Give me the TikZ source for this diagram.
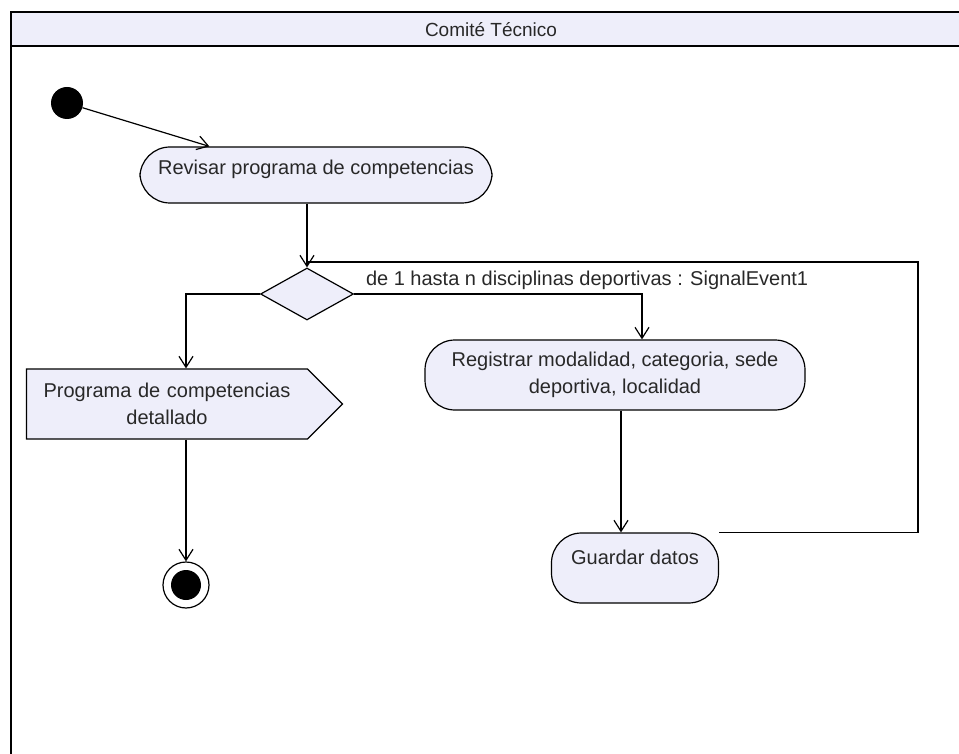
\documentclass[tikz,border=0pt]{standalone}
\usepackage{fontspec}
\setmainfont{Liberation Sans}
\usetikzlibrary{arrows.meta, positioning, shapes.geometric, shapes.symbols}
\definecolor{actfill}{RGB}{238,238,250}
\definecolor{ink}{RGB}{40,40,40}

\begin{document}
\begin{tikzpicture}[x=1pt, y=-1pt,
    txt/.style={font=\fontsize{20}{27}\selectfont, text=ink},
    action/.style={txt, draw, fill=actfill, line width=1.2pt, rounded corners=30pt, align=center},
    flow/.style={line width=1.2pt, -{Straight Barb[length=11pt, width=14pt, line width=1.2pt]}},
    link/.style={line width=1.2pt},
    frame/.style={line width=2.6pt}
]
    \useasboundingbox (0,0) rectangle (959,754);

    % carril
    \fill[actfill] (11,12) rectangle (970,46);
    \draw[frame] (970,12) -- (11,12) -- (11,770);
    \draw[frame] (11,46) -- (970,46);
    \node[txt, font=\fontsize{19}{23}\selectfont] (lane) at (491,30) {Comité Técnico};

    % nodos de inicio y fin
    \node[circle, fill=black, minimum size=32pt, inner sep=0] (init) at (67,103) {};
    \node[circle, draw, line width=1.2pt, minimum size=46pt, inner sep=0,
          path picture={\fill (path picture bounding box.center) circle (15pt);}] (fin) at (186,585) {};

    % actividades
    \node[action, minimum width=352pt, text height=14pt, text depth=14pt, inner ysep=14pt] (rev) at (316,175) {Revisar programa de competencias};
    \node[diamond, draw, fill=actfill, line width=1.2pt, minimum width=93pt, minimum height=52pt, inner sep=0] (dec) at (307,294) {};
    \node[txt, signal, signal to=east, signal pointer angle=90, draw, fill=actfill, line width=1.2pt,
          minimum height=70pt, text width=261pt, inner xsep=10pt, align=center] (sig) at (167,404) {Programa de competencias\\detallado};
    \node[action, minimum width=380pt, minimum height=70pt] (reg) at (615,375) {Registrar modalidad, categoria, sede\\deportiva, localidad};
    \node[action, minimum width=167pt, text height=15pt, text depth=23pt, inner ysep=16pt] (gua) at (635,568) {Guardar datos};

    % flujos
    \draw[flow] (init) -- ([xshift=70pt]rev.north west);
    \draw[flow] (rev.south -| dec) -- (dec.north);
    \draw[flow] (dec.west) -| (sig.north -| fin);
    \draw[flow] (sig.south -| fin) -- (fin.north);
    \draw[flow] (dec.east) -| node (lbl)[pos=0, anchor=south west, xshift=8pt, txt, font=\fontsize{20}{24}\selectfont] {de 1 hasta n disciplinas deportivas : SignalEvent1} ([xshift=27pt]reg.north);
    \draw[flow] ([xshift=6pt]reg.south) -- ([xshift=6pt]reg.south |- gua.north);

    % retorno del ciclo
    \coordinate (back) at (918,262);
    \draw[link] (gua.north east) -| (back) -- (back -| dec);
\end{tikzpicture}
\end{document}
